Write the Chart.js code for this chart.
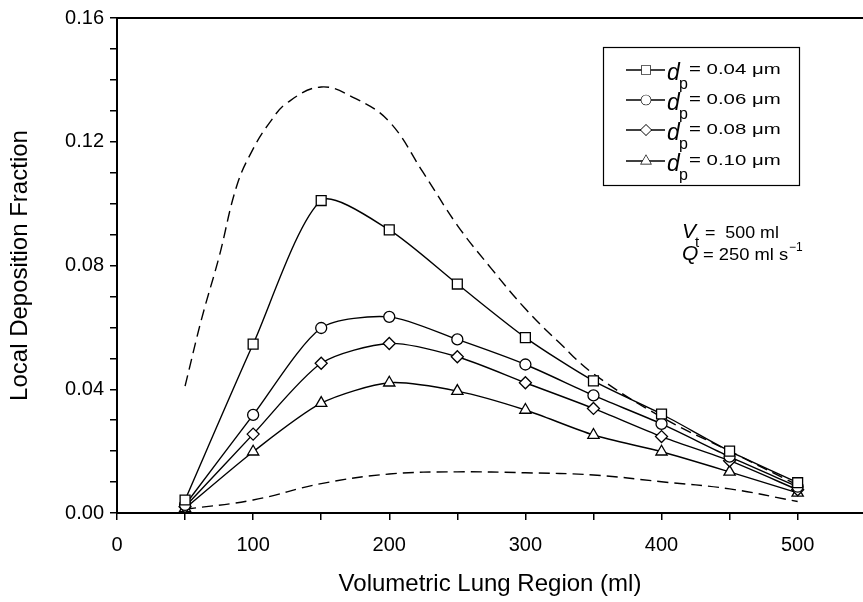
<!DOCTYPE html>
<html>
<head>
<meta charset="utf-8">
<script src="https://cdn.jsdelivr.net/npm/chart.js@4/dist/chart.umd.min.js"></script>
<style>
html,body{margin:0;padding:0;background:#fff;}
#wrap{width:863px;height:602px;position:relative;}
</style>
</head>
<body>
<div id="wrap"><canvas id="lungChart"></canvas></div>
<script>

/* DATA */

const volumes = [50,100,150,200,250,300,350,400,450,500];

const dp004 = [0.0042,0.0546,0.1010,0.0915,0.0740,0.0567,0.0427,0.0320,0.0200,0.0098];
const dp006 = [0.0026,0.0317,0.0598,0.0634,0.0561,0.0480,0.0380,0.0288,0.0182,0.0085];
const dp008 = [0.0020,0.0255,0.0484,0.0548,0.0505,0.0421,0.0338,0.0247,0.0169,0.0075];
const dp010 = [0.0015,0.0198,0.0355,0.0421,0.0394,0.0333,0.0252,0.0198,0.0133,0.0065];

const upperX = [50,62,75,88,100,112,125,150,175,200,225,250,275,300,325,350,400,450,500];
const upperY = [0.041,0.0625,0.0828,0.1058,0.1177,0.1261,0.1326,0.1377,0.134,0.1265,0.110,0.093,0.079,0.066,0.055,0.045,0.031,0.020,0.009];

const lowerX = [50,100,150,200,250,300,350,400,450,500];
const lowerY = [0.0012,0.0042,0.0095,0.0126,0.0133,0.0130,0.0123,0.0101,0.0078,0.0037];

const seriesLabels = ["0.04","0.06","0.08","0.10"];
const seriesStyles = ["rect","circle","rectRot","triangle"];
const seriesRadius = [7,5.5,6,6.5];

const xTickValues = [0,50,100,150,200,250,300,350,400,450,500];
const xTickLabels = [0,100,200,300,400,500];
const yTickLabels = [0.00,0.04,0.08,0.12,0.16];

const FONT = "'Liberation Sans', Arial, sans-serif";


function pts(xs,ys){
return xs.map((x,i)=>({x:x,y:ys[i]}));
}

const solid = [dp004,dp006,dp008,dp010].map((vals,i)=>({
label:seriesLabels[i],
data:pts(volumes,vals),
borderColor:"#000",
borderWidth:1.4,
backgroundColor:"#fff",
pointStyle:seriesStyles[i],
pointRadius:seriesRadius[i],
pointBorderWidth:1.3,
pointBackgroundColor:"#fff",
pointBorderColor:"#000",
tension:0.25
}));

const dashed = [[upperX,upperY],[lowerX,lowerY]].map(d=>({
label:"",
data:pts(d[0],d[1]),
borderColor:"#000",
borderWidth:1.4,
borderDash:[11,6],
pointRadius:0,
tension:0.4
}));


/* LEGEND + NOTES (drawn on canvas for the subscripts) */

function wideText(ctx,txt,x,y,sx){
ctx.save();
ctx.translate(x,y);
ctx.scale(sx,1);
ctx.fillText(txt,0,0);
ctx.restore();
}

const extras = {
id:"extras",
afterDraw(chart){
const ctx = chart.ctx;
const area = chart.chartArea;
ctx.save();

/* top frame line */
ctx.strokeStyle="#000";
ctx.lineWidth=2;
ctx.beginPath();
ctx.moveTo(area.left,area.top);
ctx.lineTo(chart.width,area.top);
ctx.stroke();

/* legend box */
ctx.lineWidth=1.2;
ctx.strokeRect(603.5,47.5,196,138);

const rowY=[70,100,130,161];
for(let i=0;i<4;i++){
const y=rowY[i];
ctx.strokeStyle="#000";
ctx.lineWidth=1.3;
ctx.beginPath();
ctx.moveTo(626,y);
ctx.lineTo(665,y);
ctx.stroke();
ctx.fillStyle="#fff";
Chart.helpers.drawPoint(ctx,{
pointStyle:seriesStyles[i],
radius:seriesRadius[i]*0.85,
borderWidth:1.2,
rotation:0
},646,y);
ctx.fill();

ctx.fillStyle="#000";
ctx.textBaseline="alphabetic";
ctx.textAlign="left";
ctx.font="italic 23px "+FONT;
ctx.fillText("d",667,y+10);
ctx.font="16px "+FONT;
ctx.fillText("p",679,y+19);
ctx.font="15px "+FONT;
wideText(ctx,"= "+seriesLabels[i]+" \u03bcm",689,y+4,1.36);
}

/* conditions */
ctx.font="italic 21px "+FONT;
ctx.fillText("V",682,238);
ctx.font="15px "+FONT;
ctx.fillText("t",695,247);
ctx.font="17px "+FONT;
wideText(ctx,"=  500 ml",705,238,1.05);

ctx.font="italic 21px "+FONT;
ctx.fillText("Q",682,260);
ctx.font="17px "+FONT;
wideText(ctx,"= 250 ml s",703,260,1.08);
ctx.font="12px "+FONT;
ctx.fillText("\u22121",789,251);

ctx.restore();
}
};


/* CHART */

const ctx = document.getElementById("lungChart");

new Chart(ctx,{
type:"line",
data:{datasets:[...solid,...dashed]},
options:{
responsive:true,
maintainAspectRatio:false,
animation:false,
layout:{autoPadding:false,padding:{top:18,right:0,bottom:0,left:0}},
plugins:{
legend:{display:false},
tooltip:{enabled:false}
},
scales:{
x:{
type:"linear",
min:0,
max:548,
afterFit(s){s.height=89;},
afterBuildTicks(s){s.ticks=xTickValues.map(v=>({value:v}));},
ticks:{
autoSkip:false,
padding:13,
color:"#000",
maxRotation:0,
font:{family:FONT,size:20},
callback:v=>xTickLabels.includes(v)?String(v):""
},
grid:{drawOnChartArea:false,drawTicks:true,tickLength:7,color:"#000",lineWidth:1.5},
border:{color:"#000",width:2},
title:{
display:true,
text:"Volumetric Lung Region (ml)",
color:"#000",
padding:{top:0,bottom:3},
font:{family:FONT,size:24}
}
},
y:{
min:0,
max:0.16,
afterFit(s){s.width=117;},
ticks:{
stepSize:0.01,
autoSkip:false,
padding:6,
color:"#000",
font:{family:FONT,size:20},
callback:v=>yTickLabels.some(t=>Math.abs(t-v)<1e-6)?v.toFixed(2):""
},
grid:{drawOnChartArea:false,drawTicks:true,tickLength:7,color:"#000",lineWidth:1.5},
border:{color:"#000",width:2},
title:{
display:true,
text:"Local Deposition Fraction",
color:"#000",
padding:{top:6,bottom:0},
font:{family:FONT,size:24}
}
}
}
},
plugins:[extras]
});

</script>
</body>
</html>
